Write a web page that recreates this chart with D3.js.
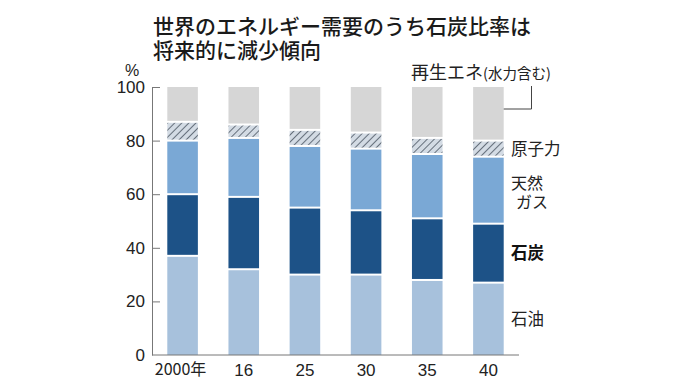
<!DOCTYPE html>
<html><head><meta charset="utf-8">
<script src="https://cdn.jsdelivr.net/npm/d3@7/dist/d3.min.js"></script>
<style>
body{margin:0;background:#fff;}
svg{display:block;}
.jp{font-family:"Noto Sans CJK JP","Noto Sans",sans-serif;}
.num{font-family:"Liberation Sans Narrow","Arial Narrow","Liberation Sans",sans-serif;}
</style></head>
<body>
<script>
const years = ["2000年","16","25","30","35","40"];
const oil     = [37,32,30,30,28,27];
const coal    = [23,27,25,24,23,22];
const gas     = [20,22,23,23,24,25];
const nuclear = [7,5,6,6,6,6];
const renew   = [13,14,16,17,19,20];
const yTicks  = [0,20,40,60,80,100];
const seriesNames = ["石油","石炭","天然ガス","原子力","再生エネ"];

const W=696,H=391;
const svg=d3.select("body").append("svg").attr("width",W).attr("height",H);
const defs=svg.append("defs");
const pat=defs.append("pattern").attr("id","hatch").attr("patternUnits","userSpaceOnUse")
  .attr("width",5).attr("height",5).attr("patternTransform","rotate(45)");
pat.append("rect").attr("width",5).attr("height",5).attr("fill","#d3dbe4");
pat.append("line").attr("x1",0).attr("y1",0).attr("x2",0).attr("y2",5).attr("stroke","#5a6470").attr("stroke-width",1.8);

const x=d3.scaleBand().domain(years).range([152,519]).paddingInner(0.5).paddingOuter(0.25);
const y=d3.scaleLinear().domain([0,100]).range([355,87]);

const colors=["#a7c1dc","#1d5287","#7aa8d5","url(#hatch)","#d6d6d6"];
const series=[oil,coal,gas,nuclear,renew];
const rows=years.map((yr,i)=>{const o={year:yr};seriesNames.forEach((n,k)=>o[n]=series[k][i]);return o;});
const stacked=d3.stack().keys(seriesNames)(rows);

const g=svg.append("g");
stacked.forEach((layer,k)=>{
  g.selectAll(null).data(layer).enter().append("rect")
    .attr("x",d=>x(d.data.year))
    .attr("width",x.bandwidth())
    .attr("y",d=>y(d[1])+(k===4?0:1))
    .attr("height",d=>Math.max(0,y(d[0])-y(d[1])-(k===0?1:2)+(k===4?1:0)))
    .attr("fill",colors[k]);
});

// y axis
const ax=svg.append("g").attr("transform","translate(152,0)")
  .call(d3.axisLeft(y).tickValues(yTicks).tickSizeInner(-8).tickSizeOuter(0).tickPadding(7));
ax.select(".domain").attr("stroke","#777").attr("stroke-width",1);
ax.selectAll(".tick line").attr("stroke","#777");
ax.selectAll(".tick").filter(d=>d===0).select("line").remove();
ax.selectAll(".tick text").attr("class","num").attr("font-size",17).attr("fill","#222");
svg.append("text").attr("class","num").attr("x",132).attr("y",76).attr("text-anchor","middle")
  .attr("font-size",16).attr("fill","#222").text("%");

// x axis baseline
const bx=svg.append("g").attr("transform","translate(0,355)")
  .call(d3.axisBottom(x).tickSize(0).tickPadding(9));
bx.select(".domain").attr("stroke","#777").attr("d","M152,0H519");
bx.selectAll(".tick text").attr("class","num").attr("font-size",17).attr("fill","#222")
  .attr("dy","0.71em");
bx.selectAll(".tick text").filter(d=>d==="2000年").attr("class","jp").attr("font-size",16).attr("dx","-2");

// title
svg.append("text").attr("class","jp").attr("font-size",21).attr("font-weight",500).attr("fill","#1a1a1a")
  .attr("x",153).attr("y",34).text("世界のエネルギー需要のうち石炭比率は");
svg.append("text").attr("class","jp").attr("font-size",21).attr("font-weight",500).attr("fill","#1a1a1a")
  .attr("x",153).attr("y",58).text("将来的に減少傾向");

// legend labels
const last=years[years.length-1];
const lx=x(last)+x.bandwidth();
const lt=svg.append("text").attr("class","jp").attr("x",411).attr("y",79).attr("fill","#222");
lt.append("tspan").attr("font-size",18).text("再生エネ");
lt.append("tspan").attr("font-size",14.5).text("(水力含む)");
svg.append("path").attr("d",`M${lx},109H531.5V86`).attr("fill","none").attr("stroke","#444").attr("stroke-width",1);

const li=years.length-1;
function mid(k){const d=stacked[k][li];return y((d[0]+d[1])/2);}
svg.append("text").attr("class","jp").attr("x",511).attr("y",mid(3)+6).attr("font-size",16.5).attr("fill","#222").text("原子力");
svg.append("text").attr("class","jp").attr("x",511).attr("y",189).attr("font-size",16).attr("fill","#222").text("天然");
svg.append("text").attr("class","jp").attr("x",516).attr("y",208).attr("font-size",16).attr("fill","#222").text("ガス");
svg.append("text").attr("class","jp").attr("x",511).attr("y",mid(1)+6).attr("font-size",16.5).attr("font-weight","bold").attr("fill","#111").text("石炭");
svg.append("text").attr("class","jp").attr("x",511).attr("y",mid(0)+6).attr("font-size",16.5).attr("fill","#222").text("石油");
</script>
</body></html>
